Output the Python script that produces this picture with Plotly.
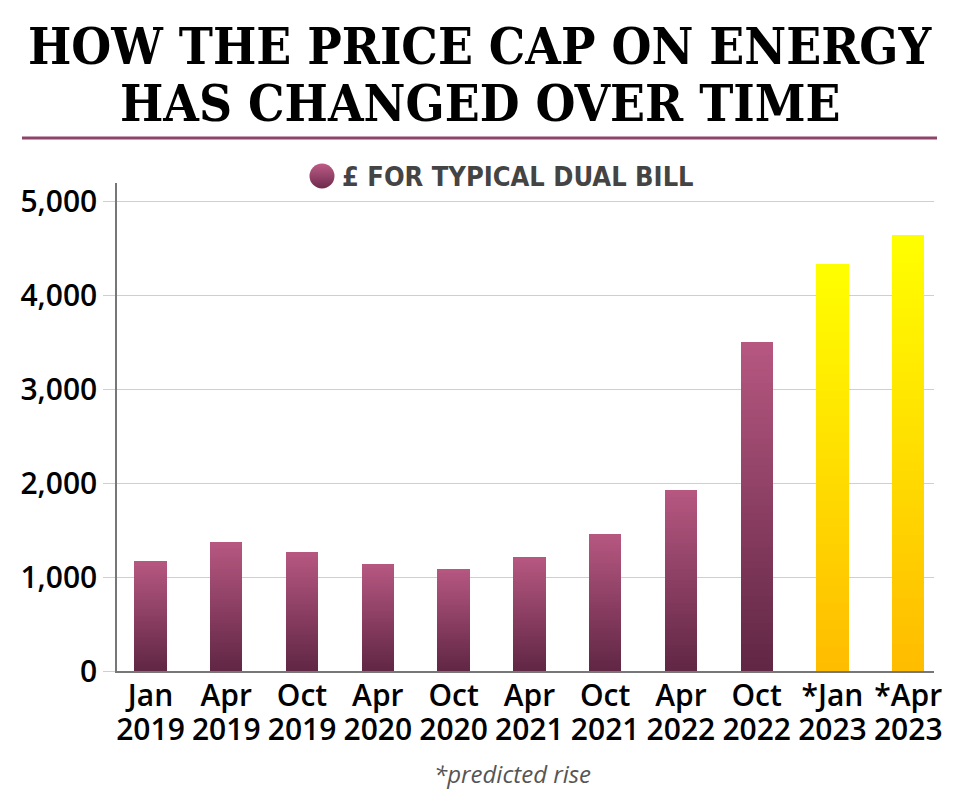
import plotly.graph_objects as go

# ---- data ----
months = ["Jan", "Apr", "Oct", "Apr", "Oct", "Apr", "Oct", "Apr", "Oct", "*Jan", "*Apr"]
years = ["2019", "2019", "2019", "2020", "2020", "2021", "2021", "2022", "2022", "2023", "2023"]
values = [1170, 1370, 1270, 1140, 1090, 1210, 1460, 1930, 3510, 4340, 4640]
predicted = [False, False, False, False, False, False, False, False, False, True, True]
y_tick_vals = [0, 1000, 2000, 3000, 4000, 5000]
y_tick_text = ["0", "1,000", "2,000", "3,000", "4,000", "5,000"]

title_lines = ["HOW THE PRICE CAP ON ENERGY", "HAS CHANGED OVER TIME"]
legend_label = "£ FOR TYPICAL DUAL BILL"
footnote = "*predicted rise"

# ---- styling ----
W, H = 960, 808
ML, MR, MT, MB = 117, 26, 150, 137
PW, PH = W - ML - MR, H - MT - MB
PLOT_TOP_PX = 183
X_RANGE = [-0.442, 10.34]
Y_RANGE = [0, 5199]

PURPLE_TOP, PURPLE_BOT = (183, 88, 129), (96, 38, 68)
YELLOW_TOP, YELLOW_BOT = (255, 255, 0), (255, 188, 0)


def lerp(c0, c1, t):
    return "rgb(%d,%d,%d)" % tuple(round(a + (b - a) * t) for a, b in zip(c0, c1))


def px_x(p):
    return (p - ML) / PW


def px_y(p):
    return (H - MB - p) / PH


x_pos = list(range(len(values)))
fig = go.Figure()

N = 48
for k in range(N):
    frac = 1 - k / N
    mid = frac - 0.5 / N
    colors = [lerp(YELLOW_BOT, YELLOW_TOP, mid) if p else lerp(PURPLE_BOT, PURPLE_TOP, mid)
              for p in predicted]
    fig.add_trace(go.Bar(
        x=x_pos, y=[v * frac for v in values], width=0.426,
        marker=dict(color=colors, line=dict(width=0)),
        showlegend=False, hoverinfo="skip",
    ))

# dummy trace so the secondary (year) axis renders
fig.add_trace(go.Scatter(x=[0], y=[0], xaxis="x2", yaxis="y", mode="markers",
                         marker=dict(size=1, opacity=0), showlegend=False, hoverinfo="skip"))

# legend glyph (gradient circle) on a small hidden subplot above the plot area
leg_d0 = px_y(190)
fig.add_trace(go.Scatter(
    x=[px_x(322)], y=[px_y(176)], xaxis="x3", yaxis="y3", mode="markers",
    marker=dict(size=25, color="rgb(190,92,134)",
                gradient=dict(type="vertical", color="rgb(110,42,78)"), line=dict(width=0)),
    cliponaxis=False, showlegend=False, hoverinfo="skip",
))

tick_font = dict(family="Open Sans", size=30, color="#000000", weight=600)

fig.update_layout(
    width=W, height=H, autosize=False,
    margin=dict(l=ML, r=MR, t=MT, b=MB, pad=0),
    paper_bgcolor="white", plot_bgcolor="white",
    barmode="overlay", bargap=0,
    xaxis=dict(range=X_RANGE, tickvals=x_pos, ticktext=months,
               showline=True, linecolor="#777777", linewidth=1.5,
               showgrid=False, zeroline=False, ticks="", tickfont=tick_font,
               ticklabelstandoff=-3, fixedrange=True),
    xaxis2=dict(range=X_RANGE, tickvals=x_pos, ticktext=years, overlaying="x",
                anchor="y", side="bottom", showline=False, showgrid=False, zeroline=False,
                ticks="", tickfont=tick_font, ticklabelstandoff=38, fixedrange=True),
    yaxis=dict(range=Y_RANGE, domain=[0, px_y(PLOT_TOP_PX)],
               tickvals=y_tick_vals, ticktext=y_tick_text,
               showline=True, linecolor="#777777", linewidth=1.5,
               showgrid=True, gridcolor="#cfcfcf", gridwidth=1, zeroline=False,
               ticks="outside", ticklen=12, tickcolor="#cfcfcf", tickwidth=1,
               tickfont=tick_font, fixedrange=True),
    xaxis3=dict(range=[0, 1], domain=[0, 1], anchor="y3", visible=False, fixedrange=True),
    yaxis3=dict(range=[leg_d0, 1], domain=[leg_d0, 1], anchor="x3", visible=False, fixedrange=True),
)

title_font = dict(family="DejaVu Serif Condensed, DejaVu Serif", size=51, color="#000000", weight=700)
annos = [
    dict(text=title_lines[0], x=px_x(480), y=px_y(46), xref="paper", yref="paper",
         xanchor="center", yanchor="middle", showarrow=False, font=title_font),
    dict(text=title_lines[1], x=px_x(480), y=px_y(103), xref="paper", yref="paper",
         xanchor="center", yanchor="middle", showarrow=False, font=title_font),
    dict(text=legend_label, x=px_x(340), y=px_y(176), xref="paper", yref="paper",
         xanchor="left", yanchor="middle", showarrow=False,
         font=dict(family="DejaVu Sans Condensed, DejaVu Sans", size=27, color="#444444", weight=700)),
    dict(text=footnote, x=px_x(512), y=px_y(773), xref="paper", yref="paper",
         xanchor="center", yanchor="middle", showarrow=False,
         font=dict(family="Open Sans", size=24, color="#555555", style="italic")),
]
fig.update_layout(annotations=annos)
fig.add_shape(type="line", xref="paper", yref="paper",
              x0=px_x(22), x1=px_x(937), y0=px_y(138), y1=px_y(138),
              line=dict(color="#8e4468", width=3))

fig.write_html("out.html", config={"displayModeBar": False},
               post_script="document.body.style.margin='0px';")
